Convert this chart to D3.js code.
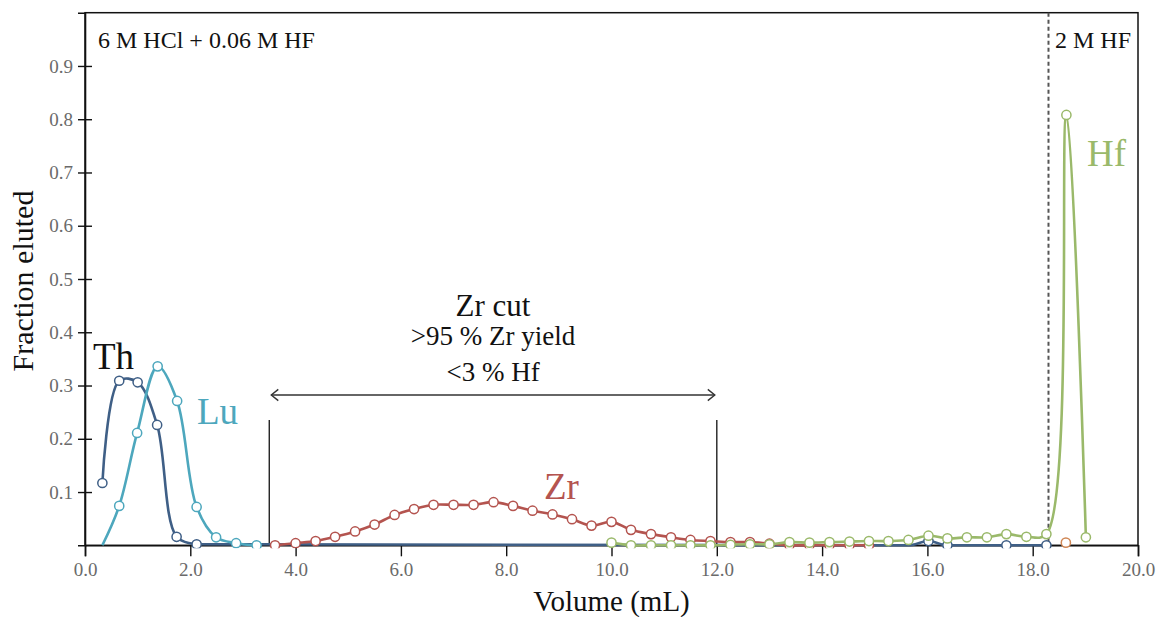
<!DOCTYPE html>
<html>
<head>
<meta charset="utf-8">
<script src="https://cdn.jsdelivr.net/npm/d3@7/dist/d3.min.js"></script>
<style>
  html, body { margin: 0; padding: 0; background: #fff; }
  svg { display: block; font-family: "Liberation Serif", "Times New Roman", serif; }
</style>
</head>
<body>
<svg id="chart" width="1162" height="617"></svg>
<script>
// ---- data ----
const thVol = [0.33, 0.65, 1.0, 1.37, 1.74, 2.12, 15.64, 16.02, 16.38, 17.5, 18.26];
const thVal = [0.117, 0.309, 0.306, 0.226, 0.016, 0.002, 0.0, 0.008, 0.0, 0.0, 0.0];

const luVol = [0.33, 0.65, 0.99, 1.38, 1.75, 2.12, 2.49, 2.87, 3.26];
const luVal = [0.0, 0.074, 0.211, 0.336, 0.271, 0.072, 0.015, 0.004, 0.0];

const zrVol = [3.61, 4.0, 4.38, 4.75, 5.13, 5.5, 5.88, 6.25, 6.62, 7.0, 7.38, 7.76, 8.13, 8.5, 8.88, 9.25,
               9.62, 10.0, 10.37, 10.75, 11.13, 11.5, 11.88, 12.26, 12.63, 13.0, 13.38, 13.76, 14.14, 14.52, 14.89];
const zrVal = [0.0, 0.004, 0.008, 0.016, 0.026, 0.039, 0.057, 0.068, 0.076, 0.076, 0.076, 0.081, 0.074, 0.065, 0.058, 0.049,
               0.037, 0.044, 0.029, 0.021, 0.015, 0.010, 0.008, 0.006, 0.006, 0.003, 0.0, 0.0, 0.0, 0.0, 0.0];

const hfVol = [10.0, 10.37, 10.75, 11.13, 11.5, 11.88, 12.26, 12.63, 13.0, 13.38, 13.76, 14.14, 14.52, 14.89,
               15.26, 15.64, 16.02, 16.38, 16.75, 17.13, 17.5, 17.88, 18.26, 18.64, 19.01];
const hfVal = [0.005, 0.0, 0.0, 0.0, 0.0, 0.0, 0.001, 0.002, 0.002, 0.006, 0.005, 0.006, 0.007, 0.008,
               0.008, 0.010, 0.018, 0.013, 0.015, 0.015, 0.021, 0.016, 0.021, 0.808, 0.015];

const otherVol = [18.63];
const otherVal = [0.005];

const xTicks = [0, 2, 4, 6, 8, 10, 12, 14, 16, 18, 20];
const yTicks = [0.1, 0.2, 0.3, 0.4, 0.5, 0.6, 0.7, 0.8, 0.9];

const zrCutStart = 3.5, zrCutEnd = 12.0;
const acidSwitch = 18.3;

// ---- layout ----
const svg = d3.select("#chart");
const W = 1162, H = 617;
const m = { left: 85, right: 24, top: 12.7, bottom: 71.7 };
const x = d3.scaleLinear().domain([0, 20]).range([m.left, W - m.right]);
const y = d3.scaleLinear().domain([0, 1]).range([H - m.bottom, m.top]);

const colors = { th: "#3f5f86", lu: "#4da7bd", zr: "#b4544f", hf: "#9ab96a", other: "#d08755" };

svg.append("defs").append("clipPath").attr("id", "clip")
  .append("rect").attr("x", m.left).attr("y", m.top - 5)
  .attr("width", x(20) - m.left).attr("height", y(0) - m.top + 8);

// frame
svg.append("rect").attr("x", x(0)).attr("y", y(1)).attr("width", x(20) - x(0)).attr("height", y(0) - y(1))
  .attr("fill", "none").attr("stroke", "#111").attr("stroke-width", 1.5);

// x axis
const xAxis = d3.axisBottom(x).tickValues(xTicks).tickFormat(d3.format(".1f")).tickSize(11).tickPadding(6);
const gx = svg.append("g").attr("transform", `translate(0,${y(0)})`).call(xAxis);
gx.select(".domain").attr("stroke", "#111").attr("stroke-width", 1.6);
gx.selectAll(".tick line").attr("stroke", "#111").attr("stroke-width", 1.4);
gx.selectAll(".tick text").attr("fill", "#6a6a6a").attr("font-size", 19).attr("font-family", "Liberation Serif");

// y axis
const yAxis = d3.axisLeft(y).tickValues(yTicks).tickFormat(d3.format(".1f")).tickSize(7).tickPadding(5);
const gy = svg.append("g").attr("transform", `translate(${x(0)},0)`).call(yAxis);
gy.select(".domain").attr("stroke", "#111").attr("stroke-width", 1.6);
gy.selectAll(".tick line").attr("stroke", "#111").attr("stroke-width", 1.4).attr("x2", 7).attr("x1", -7);
gy.selectAll(".tick text").attr("fill", "#6a6a6a").attr("font-size", 19).attr("font-family", "Liberation Serif");

// axis titles
svg.append("text").attr("x", x(10)).attr("y", 611).attr("text-anchor", "middle")
  .attr("font-size", 29).attr("fill", "#111").text("Volume (mL)");
svg.append("text").attr("transform", `translate(33,${281}) rotate(-90)`).attr("text-anchor", "middle")
  .attr("font-size", 30).attr("fill", "#111").text("Fraction eluted");

// acid switch dashed line
svg.append("line").attr("x1", x(acidSwitch)).attr("x2", x(acidSwitch)).attr("y1", y(1)).attr("y2", y(0))
  .attr("stroke", "#555").attr("stroke-width", 2).attr("stroke-dasharray", "4,3");

svg.append("text").attr("x", 98).attr("y", 48).attr("font-size", 24).attr("fill", "#111").text("6 M HCl + 0.06 M HF");
svg.append("text").attr("x", 1055).attr("y", 48).attr("font-size", 24).attr("fill", "#111").text("2 M HF");

// Zr cut annotation
const capTop = 420;
[zrCutStart, zrCutEnd].forEach(v => {
  svg.append("line").attr("x1", x(v)).attr("x2", x(v)).attr("y1", capTop).attr("y2", y(0))
    .attr("stroke", "#222").attr("stroke-width", 1.4);
});
const ay = 395;
svg.append("line").attr("x1", x(zrCutStart) + 2).attr("x2", x(zrCutEnd) - 2).attr("y1", ay).attr("y2", ay)
  .attr("stroke", "#333").attr("stroke-width", 1.4);
const ah = 7;
svg.append("path").attr("d", `M${x(zrCutStart) + 2 + ah},${ay - ah * 0.8} L${x(zrCutStart) + 2},${ay} L${x(zrCutStart) + 2 + ah},${ay + ah * 0.8}`)
  .attr("fill", "none").attr("stroke", "#333").attr("stroke-width", 1.4);
svg.append("path").attr("d", `M${x(zrCutEnd) - 2 - ah},${ay - ah * 0.8} L${x(zrCutEnd) - 2},${ay} L${x(zrCutEnd) - 2 - ah},${ay + ah * 0.8}`)
  .attr("fill", "none").attr("stroke", "#333").attr("stroke-width", 1.4);
const cx = (x(zrCutStart) + x(zrCutEnd)) / 2;
svg.append("text").attr("x", cx).attr("y", 316).attr("text-anchor", "middle").attr("font-size", 31).attr("fill", "#111").text("Zr cut");
svg.append("text").attr("x", cx).attr("y", 345).attr("text-anchor", "middle").attr("font-size", 27).attr("fill", "#111").text(">95 % Zr yield");
svg.append("text").attr("x", cx).attr("y", 381).attr("text-anchor", "middle").attr("font-size", 27).attr("fill", "#111").text("<3 % Hf");

// series
const smooth = d3.line().x(d => x(d[0])).y(d => y(d[1])).curve(d3.curveCatmullRom.alpha(0.5));
const mono = d3.line().x(d => x(d[0])).y(d => y(d[1])).curve(d3.curveMonotoneX);
const series = [
  { key: "th", vol: thVol, val: thVal, split: 5, hidden: [6] },
  { key: "lu", vol: luVol, val: luVal, split: null, hidden: [0] },
  { key: "zr", vol: zrVol, val: zrVal, split: null, hidden: [] },
  { key: "hf", vol: hfVol, val: hfVal, split: null, hidden: [] },
];
const plot = svg.append("g").attr("clip-path", "url(#clip)");
series.forEach(s => {
  const pts = s.vol.map((v, i) => [v, s.val[i]]);
  const segs = s.split === null ? [[pts, smooth]] : [[pts.slice(0, s.split + 1), smooth], [pts.slice(s.split), mono]];
  segs.forEach(([p, gen]) => {
    plot.append("path").datum(p).attr("d", gen).attr("fill", "none")
      .attr("stroke", colors[s.key]).attr("stroke-width", 2.6).attr("stroke-linejoin", "round");
  });
  plot.selectAll(null).data(pts.filter((d, i) => !s.hidden.includes(i))).enter().append("circle")
    .attr("cx", d => x(d[0])).attr("cy", d => y(d[1])).attr("r", 4.6)
    .attr("fill", "#fff").attr("stroke", colors[s.key]).attr("stroke-width", 1.5);
});
plot.selectAll(null).data(otherVol.map((v, i) => [v, otherVal[i]])).enter().append("circle")
  .attr("cx", d => x(d[0])).attr("cy", d => y(d[1])).attr("r", 4.6)
  .attr("fill", "#fff").attr("stroke", colors.other).attr("stroke-width", 1.5);

// element labels
svg.append("text").attr("x", 93).attr("y", 369).attr("font-size", 37).attr("fill", "#111").text("Th");
svg.append("text").attr("x", 197).attr("y", 424).attr("font-size", 37).attr("fill", colors.lu).text("Lu");
svg.append("text").attr("x", 544).attr("y", 499).attr("font-size", 37).attr("fill", colors.zr).text("Zr");
svg.append("text").attr("x", 1087).attr("y", 166).attr("font-size", 37).attr("fill", colors.hf).text("Hf");
</script>
</body>
</html>
